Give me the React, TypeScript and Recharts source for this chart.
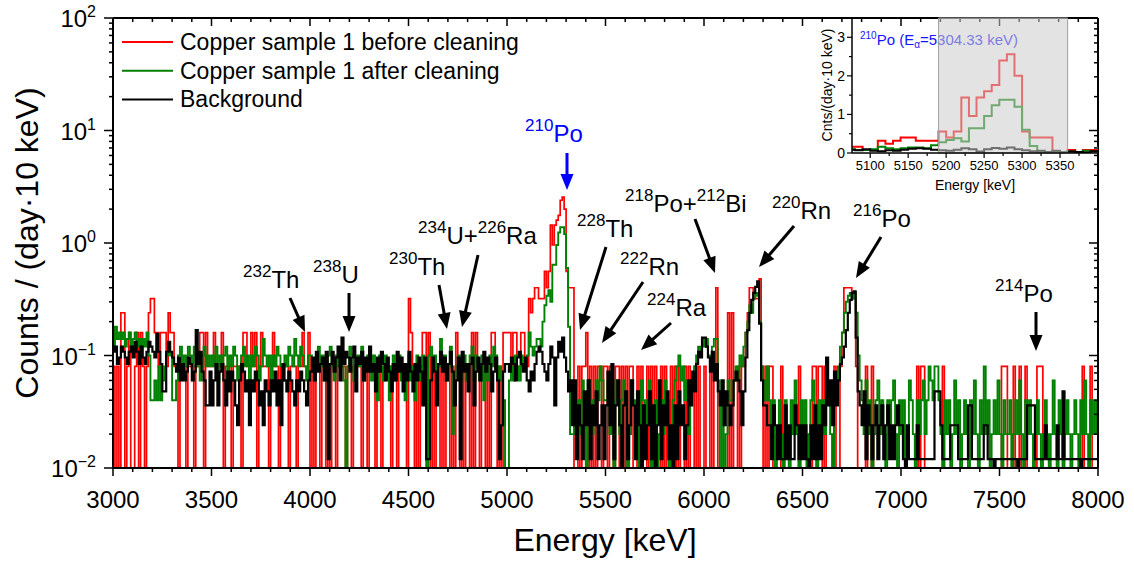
import React from "react";
import { LineChart, Line, XAxis, YAxis, ReferenceArea } from "recharts";

const FONT = '"Liberation Sans", Arial, Helvetica, sans-serif';

// 10 keV bins from 3000 keV; integer counts per bin
const BIN_START = 3000;
const BIN_WIDTH = 10;

// Copper sample 1 before cleaning: one count = 0.08 /day
const RED_PER_COUNT = 0.08;
const redCounts = [
  1,0,1,0,3,3,0,1,2,0, 0,1,2,0,2,1,0,1,3,4, 4,2,2,1,2,2,2,1,3,2, 2,1,1,0,1,1,1,0,1,1, 1,0,1,1,2,2,0,2,1,1,
  1,2,1,1,1,2,0,1,1,1, 0,1,1,1,1,0,2,2,1,1, 2,1,2,0,1,2,1,1,1,0, 1,2,1,1,0,1,1,1,1,0, 1,1,1,0,1,1,2,1,1,2,
  0,1,0,1,1,0,1,1,0,1, 0,1,1,0,1,1,1,1,0,1, 1,0,1,1,1,1,0,1,1,0, 1,1,1,0,1,1,0,1,1,1, 1,0,1,1,0,1,1,1,1,0,
  4,2,1,0,1,0,1,2,2,1, 2,0,1,0,1,1,0,1,0,1, 1,0,1,0,2,1,0,1,0,1, 1,0,2,0,2,1,0,1,1,0, 1,0,2,2,1,0,1,0,2,2,
  2,2,1,2,2,1,1,2,2,1, 1,4,3,4,5,5,4,4,4,7, 5,7,18,12,18,20,22,30,32,25, 7,5,5,5,0,0,1,0,1,1, 2,0,1,0,1,0,1,1,0,1,
  1,0,1,1,0,1,1,0,1,0, 1,0,1,1,0,0,1,0,1,0, 0,1,0,1,0,1,0,0,1,0, 1,0,0,1,0,1,0,1,0,0, 1,0,1,0,0,1,0,1,0,0,
  1,0,0,1,0,1,5,0,0,0, 0,0,3,0,3,0,0,1,0,1, 1,2,3,5,5,4,4,4,6,1, 0,1,0,1,1,0,0,0,0,1, 0,0,0,0,0,0,0,0,1,0,
  0,0,0,0,0,1,1,0,1,1, 0,1,0,0,0,0,1,0,0,1, 2,5,5,5,5,4,4,1,0,0, 0,0,1,0,0,1,0,0,0,0, 0,0,0,0,0,0,0,0,0,0,
  0,0,0,0,0,0,0,0,1,0, 1,1,0,0,0,0,0,0,0,0, 0,1,0,0,0,0,0,0,0,0, 0,0,0,0,0,0,0,0,0,0, 0,0,0,0,0,0,0,0,0,0,
  0,1,1,1,0,0,0,1,0,0, 1,0,0,1,0,0,0,0,0,1, 1,1,0,0,0,0,0,0,0,0, 0,0,0,0,0,0,0,0,0,0, 0,0,1,0,0,0,1,0,0,0,
];

// Copper sample 1 after cleaning: one count = 0.02 /day
const GREEN_PER_COUNT = 0.02;
const greenCounts = [
  6,9,7,8,7,8,6,7,8,6, 7,8,6,7,5,7,6,8,5,2, 2,3,2,4,2,3,4,5,6,5, 2,2,3,5,6,4,5,4,6,5, 4,6,5,4,3,5,6,4,5,4,
  5,4,6,3,5,4,5,6,3,5, 4,6,5,3,4,5,6,4,5,3, 5,4,6,5,3,4,7,5,4,5, 3,5,4,6,5,4,3,5,4,6, 5,4,7,5,4,6,5,4,3,5,
  5,4,3,5,6,4,5,3,4,5, 6,4,3,5,4,5,4,3,0,4, 6,5,3,4,5,4,6,3,4,5, 4,3,5,4,2,5,4,3,5,4, 2,4,5,3,4,5,3,4,2,4,
  5,3,4,2,5,4,3,5,4,0, 5,6,4,5,3,4,7,4,5,3, 4,6,1,2,4,5,3,4,5,3, 4,5,6,3,5,4,3,5,2,4, 3,5,4,6,5,3,4,3,2,0,
  0,3,4,3,5,4,3,5,4,4, 5,8,6,5,6,7,7,6,10,14, 17,19,15,32,32,48,62,69,69,60, 30,9,1,1,2,1,2,1,3,2, 0,3,2,1,2,3,2,4,3,2,
  2,3,1,2,0,3,2,1,2,3, 2,0,1,3,2,1,2,0,3,2, 1,2,3,0,1,2,0,1,2,1, 3,2,0,1,2,3,4,5,3,4, 2,3,1,2,3,4,5,6,5,7,
  6,7,5,4,6,7,7,3,0,2, 0,1,3,2,2,3,4,3,5,4, 6,8,10,14,12,16,18,17,10,4, 3,2,4,2,1,2,0,1,2,1, 0,2,1,0,2,1,3,1,0,2,
  1,2,0,1,2,3,1,0,2,1, 2,1,3,2,1,0,2,3,4,6, 8,12,15,17,18,16,18,12,5,3, 2,1,3,1,2,0,1,2,3,1, 2,1,0,2,1,2,3,1,0,2,
  1,2,0,1,3,2,1,0,2,1, 2,3,1,2,4,3,2,4,4,2, 1,0,2,1,2,0,1,3,1,2, 0,1,2,1,0,2,1,3,1,0, 2,1,4,1,2,0,1,2,1,3,
  1,0,2,1,1,2,0,1,2,1, 3,1,0,2,1,2,1,0,1,2, 1,0,1,2,1,0,1,3,1,0, 2,1,0,1,2,1,0,1,2,1, 0,2,1,3,1,0,2,1,2,1,
];

// Background: one count = 0.012 /day
const BLACK_PER_COUNT = 0.012;
const blackCounts = [
  9,10,7,8,10,9,8,7,9,10, 8,11,9,7,10,8,7,9,11,10, 9,8,13,9,7,4,4,9,11,9, 8,7,6,8,5,7,5,6,8,7, 5,6,14,7,9,6,5,3,3,6,
  3,5,7,3,6,7,5,3,6,4, 6,5,3,2,5,7,6,4,5,2, 5,4,6,5,3,4,2,5,4,3, 5,4,6,3,5,2,7,5,4,6, 5,4,3,5,4,6,5,4,3,5,
  6,8,5,9,6,7,8,5,9,1, 7,9,6,8,10,5,12,7,9,8, 6,8,10,4,8,7,9,5,8,6, 10,6,7,4,8,6,9,7,5,8, 6,4,7,5,9,6,8,4,7,5,
  9,6,4,7,5,8,6,3,8,1, 1,5,8,6,3,7,9,6,8,5, 7,9,6,3,5,8,1,9,6,7, 4,7,8,3,6,8,5,7,9,6, 8,7,4,6,8,5,1,2,6,7,
  7,6,8,7,5,8,9,7,6,8, 5,4,6,5,7,9,10,9,7,6, 5,7,10,8,3,8,11,9,12,8, 6,4,5,2,5,1,3,2,1,4, 2,5,1,3,2,4,1,2,3,1,
  3,6,2,7,1,3,5,2,0,3, 4,1,2,5,3,1,4,2,0,3, 1,2,4,1,3,0,2,5,1,3, 2,4,1,2,0,3,1,4,2,3, 1,2,5,3,6,4,7,9,8,12,
  12,10,8,6,9,5,7,4,3,5, 2,4,3,2,3,5,6,5,4,2, 4,8,14,20,26,30,34,38,16,5, 3,3,2,2,1,3,2,1,2,1, 1,3,1,2,1,1,3,2,1,2,
  1,2,1,0,2,1,3,1,2,1, 3,2,8,3,5,2,6,3,5,7, 8,10,14,20,26,30,31,12,4,3, 2,4,1,3,2,1,2,3,1,2, 3,1,2,3,1,2,1,2,3,2,
  2,1,0,2,1,1,1,1,2,1, 1,1,1,1,1,1,1,4,4,4, 2,1,1,1,1,2,2,2,2,1, 1,1,1,1,3,3,1,1,1,1, 1,1,2,2,1,1,1,0,1,1,
  1,1,1,1,1,1,1,1,1,0, 1,1,1,1,3,3,3,3,1,1, 1,1,1,2,1,1,1,1,1,2, 1,1,4,1,1,1,1,1,1,1, 1,0,1,1,1,1,1,1,1,1,
];

// empty bins sit below the 10^-2 floor so the step drops through the axis
const EMPTY = 0.001;
const rate = (c: number, per: number) => (c > 0 ? c * per : EMPTY);

type Row = { e: number; red: number; green: number; black: number };
const rows: Row[] = redCounts.map((_, i) => ({
  e: BIN_START + i * BIN_WIDTH,
  red: rate(redCounts[i], RED_PER_COUNT),
  green: rate(greenCounts[i], GREEN_PER_COUNT),
  black: rate(blackCounts[i], BLACK_PER_COUNT),
}));
// closing edge so the last bin reaches 8000 keV
rows.push({ ...rows[rows.length - 1], e: BIN_START + redCounts.length * BIN_WIDTH });

const INSET_FROM = 5076;
const INSET_TO = 5400;
const insetRows = rows.filter((r) => r.e >= INSET_FROM - BIN_WIDTH && r.e <= INSET_TO);
// region-of-interest band shown in the inset
const ROI = [5190, 5360];

const xTicks: number[] = [];
for (let v = 3000; v <= 8000; v += 100) xTicks.push(v);
const yTicks: number[] = [];
for (let k = -2; k < 2; k++) for (let m = 1; m < 10; m++) yTicks.push(+(m * Math.pow(10, k)).toPrecision(3));
yTicks.push(100);
const insetXTicks = [5100, 5125, 5150, 5175, 5200, 5225, 5250, 5275, 5300, 5325, 5350, 5375];
const insetYTicks = [0, 0.5, 1, 1.5, 2, 2.5, 3];

const isDecade = (v: number) => Math.abs(Math.log10(v) - Math.round(Math.log10(v))) < 1e-6;

function BottomTick(p: any) {
  const { x, y, payload } = p;
  const major = payload.value % 500 === 0;
  return (
    <g>
      <line x1={x} y1={y} x2={x} y2={y + (major ? 8 : 4)} stroke="#000" strokeWidth={1.5} />
      {major && (
        <text x={x} y={y + 40} textAnchor="middle" fontSize={24} fontFamily={FONT} fill="#000">
          {payload.value}
        </text>
      )}
    </g>
  );
}

function TopTick(p: any) {
  const { x, y, payload } = p;
  const major = payload.value % 500 === 0;
  return <line x1={x} y1={y} x2={x} y2={y + (major ? 8 : 4)} stroke="#000" strokeWidth={1.5} />;
}

function LeftTick(p: any) {
  const { x, y, payload } = p;
  const major = isDecade(payload.value);
  const exp = Math.round(Math.log10(payload.value));
  return (
    <g>
      <line x1={x} y1={y} x2={x - (major ? 9 : 4)} y2={y} stroke="#000" strokeWidth={1.5} />
      {major && (
        <text x={x - 17} y={y + 9} textAnchor="end" fontSize={24} fontFamily={FONT} fill="#000">
          10
          <tspan fontSize={16} dy={-10}>
            {exp < 0 ? "\u2212" + Math.abs(exp) : String(exp)}
          </tspan>
        </text>
      )}
    </g>
  );
}

function RightTick(p: any) {
  const { x, y, payload } = p;
  const major = isDecade(payload.value);
  return <line x1={x} y1={y} x2={x - (major ? 9 : 4)} y2={y} stroke="#000" strokeWidth={1.5} />;
}

function InsetBottomTick(p: any) {
  const { x, y, payload } = p;
  const major = payload.value % 50 === 0;
  return (
    <g>
      <line x1={x} y1={y} x2={x} y2={y + (major ? 5 : 3)} stroke="#000" strokeWidth={1.2} />
      {major && (
        <text x={x} y={y + 17} textAnchor="middle" fontSize={13} fontFamily={FONT} fill="#000">
          {payload.value}
        </text>
      )}
    </g>
  );
}

function InsetLeftTick(p: any) {
  const { x, y, payload } = p;
  const major = Number.isInteger(payload.value);
  return (
    <g>
      <line x1={x} y1={y} x2={x - (major ? 5 : 3)} y2={y} stroke="#000" strokeWidth={1.2} />
      {major && (
        <text x={x - 7} y={y + 5} textAnchor="end" fontSize={14} fontFamily={FONT} fill="#000">
          {payload.value}
        </text>
      )}
    </g>
  );
}

type Note = { x: number; y: number; parts: [string, string][]; arrow: [number, number, number, number] };
const notes: Note[] = [
  { x: 243, y: 288, parts: [["232", "Th"]], arrow: [290, 298, 305, 332] },
  { x: 313, y: 283, parts: [["238", "U"]], arrow: [349, 293, 349, 332] },
  { x: 389, y: 275, parts: [["230", "Th"]], arrow: [439, 285, 447, 329] },
  { x: 418, y: 244, parts: [["234", "U+"], ["226", "Ra"]], arrow: [478, 255, 462, 327] },
  { x: 577, y: 237, parts: [["228", "Th"]], arrow: [606, 247, 580, 330] },
  { x: 620, y: 275, parts: [["222", "Rn"]], arrow: [643, 282, 602, 343] },
  { x: 647, y: 316, parts: [["224", "Ra"]], arrow: [671, 323, 641, 350] },
  { x: 625, y: 212, parts: [["218", "Po+"], ["212", "Bi"]], arrow: [695, 219, 715, 273] },
  { x: 772, y: 219, parts: [["220", "Rn"]], arrow: [794, 226, 759, 267] },
  { x: 853, y: 227, parts: [["216", "Po"]], arrow: [881, 237, 856, 278] },
  { x: 995, y: 302, parts: [["214", "Po"]], arrow: [1036, 312, 1036, 351] },
];
const poNote: Note = { x: 525, y: 142, parts: [["210", "Po"]], arrow: [567, 153, 567, 190] };

function Arrow({ a, color }: { a: [number, number, number, number]; color: string }) {
  const [x1, y1, x2, y2] = a;
  const len = Math.hypot(x2 - x1, y2 - y1);
  const ux = (x2 - x1) / len;
  const uy = (y2 - y1) / len;
  const bx = x2 - ux * 16;
  const by = y2 - uy * 16;
  const half = 6.5;
  return (
    <g>
      <line x1={x1} y1={y1} x2={bx + ux} y2={by + uy} stroke={color} strokeWidth={3} />
      <polygon
        points={`${x2},${y2} ${bx - uy * half},${by + ux * half} ${bx + uy * half},${by - ux * half}`}
        fill={color}
      />
    </g>
  );
}

function NuclideLabel({ n, color }: { n: Note; color: string }) {
  return (
    <text x={n.x} y={n.y} fontSize={24} fontFamily={FONT} fill={color}>
      {n.parts.map(([sup, txt], i) => (
        <React.Fragment key={i}>
          <tspan fontSize={17} dy={-11}>
            {sup}
          </tspan>
          <tspan dy={11}>{txt}</tspan>
        </React.Fragment>
      ))}
    </text>
  );
}

const legendItems = [
  { label: "Copper sample 1 before cleaning", color: "#ff0000" },
  { label: "Copper sample 1 after cleaning", color: "#008000" },
  { label: "Background", color: "#000000" },
];

const axisLine = { stroke: "#000", strokeWidth: 2 };

export default function App() {
  return (
    <div style={{ position: "absolute", left: 0, top: 0, width: 1134, height: 561, background: "#fff" }}>
      <div style={{ position: "absolute", left: 0, top: 0 }}>
        <LineChart width={1134} height={561} data={rows} margin={{ top: 8, right: 26, bottom: 43, left: 53 }}>
          <XAxis
            dataKey="e"
            type="number"
            domain={[3000, 8000]}
            allowDataOverflow
            ticks={xTicks}
            interval={0}
            height={50}
            tickSize={0}
            tickMargin={0}
            tickLine={false}
            tick={BottomTick}
            axisLine={axisLine}
          />
          <XAxis
            xAxisId="top"
            orientation="top"
            dataKey="e"
            type="number"
            domain={[3000, 8000]}
            allowDataOverflow
            ticks={xTicks}
            interval={0}
            height={10}
            tickSize={0}
            tickMargin={0}
            tickLine={false}
            tick={TopTick}
            axisLine={axisLine}
          />
          <YAxis
            scale="log"
            type="number"
            domain={[0.01, 100]}
            allowDataOverflow
            ticks={yTicks}
            interval={0}
            width={60}
            tickSize={0}
            tickMargin={0}
            tickLine={false}
            tick={LeftTick}
            axisLine={axisLine}
          />
          <YAxis
            yAxisId="right"
            orientation="right"
            scale="log"
            type="number"
            domain={[0.01, 100]}
            allowDataOverflow
            ticks={yTicks}
            interval={0}
            width={10}
            tickSize={0}
            tickMargin={0}
            tickLine={false}
            tick={RightTick}
            axisLine={axisLine}
          />
          <Line type="stepAfter" dataKey="red" stroke="#ff0000" strokeWidth={1.7} dot={false} isAnimationActive={false} />
          <Line type="stepAfter" dataKey="green" stroke="#008000" strokeWidth={1.9} dot={false} isAnimationActive={false} />
          <Line type="stepAfter" dataKey="black" stroke="#000000" strokeWidth={2.2} dot={false} isAnimationActive={false} />
        </LineChart>
      </div>

      <svg width={1134} height={561} style={{ position: "absolute", left: 0, top: 0, pointerEvents: "none" }}>
        {legendItems.map((it, i) => (
          <g key={it.label}>
            <line x1={122} x2={173} y1={42 + i * 28.7} y2={42 + i * 28.7} stroke={it.color} strokeWidth={2} />
            <text x={180} y={50 + i * 28.7} fontSize={23} fontFamily={FONT} fill="#000">
              {it.label}
            </text>
          </g>
        ))}
        <text x={605} y={551} textAnchor="middle" fontSize={32} fontFamily={FONT} fill="#000">
          Energy [keV]
        </text>
        <text transform="translate(38,243) rotate(-90)" textAnchor="middle" fontSize={32} fontFamily={FONT} fill="#000">
          Counts / (day·10 keV)
        </text>

        {notes.map((n, i) => (
          <g key={i}>
            <NuclideLabel n={n} color="#000" />
            <Arrow a={n.arrow} color="#000" />
          </g>
        ))}
        <NuclideLabel n={poNote} color="#0000ff" />
        <Arrow a={poNote.arrow} color="#0000ff" />

        <text x={860} y={45} fontSize={15} fontFamily={FONT} fill="#1414ff">
          <tspan fontSize={10} dy={-6}>210</tspan>
          <tspan dy={6}>Po (E</tspan>
          <tspan fontSize={10} dy={3}>α</tspan>
          <tspan dy={-3}>=5304.33 keV)</tspan>
        </text>
        <text x={975} y={190} textAnchor="middle" fontSize={14} fontFamily={FONT} fill="#000">
          Energy [keV]
        </text>
        <text transform="translate(832,85) rotate(-90)" textAnchor="middle" fontSize={14} fontFamily={FONT} fill="#000">
          Cnts/(day·10 keV)
        </text>
      </svg>

      <div style={{ position: "absolute", left: 780, top: 0 }}>
        <LineChart width={354} height={200} data={insetRows} margin={{ top: 8, right: 36, bottom: 17, left: 42 }}>
          <XAxis
            dataKey="e"
            type="number"
            domain={[INSET_FROM, INSET_TO]}
            allowDataOverflow
            ticks={insetXTicks}
            interval={0}
            height={30}
            tickSize={0}
            tickMargin={0}
            tickLine={false}
            tick={InsetBottomTick}
            axisLine={{ stroke: "#000", strokeWidth: 1.5 }}
          />
          <XAxis
            xAxisId="top"
            orientation="top"
            dataKey="e"
            type="number"
            domain={[INSET_FROM, INSET_TO]}
            allowDataOverflow
            ticks={[]}
            height={10}
            tick={false}
            tickLine={false}
            axisLine={false}
          />
          <YAxis
            type="number"
            domain={[0, 3.5]}
            allowDataOverflow
            ticks={insetYTicks}
            interval={0}
            width={30}
            tickSize={0}
            tickMargin={0}
            tickLine={false}
            tick={InsetLeftTick}
            axisLine={{ stroke: "#000", strokeWidth: 1.5 }}
          />
          <Line type="stepAfter" dataKey="red" stroke="#ff0000" strokeWidth={2} dot={false} isAnimationActive={false} />
          <Line type="stepAfter" dataKey="green" stroke="#008000" strokeWidth={2} dot={false} isAnimationActive={false} />
          <Line type="stepAfter" dataKey="black" stroke="#000000" strokeWidth={2} dot={false} isAnimationActive={false} />
          <ReferenceArea
            x1={ROI[0]}
            x2={ROI[1]}
            fill="#cccccc"
            fillOpacity={0.55}
            stroke="#a0a0a0"
            strokeWidth={1}
            zIndex={450}
            isFront
          />
        </LineChart>
      </div>
    </div>
  );
}
